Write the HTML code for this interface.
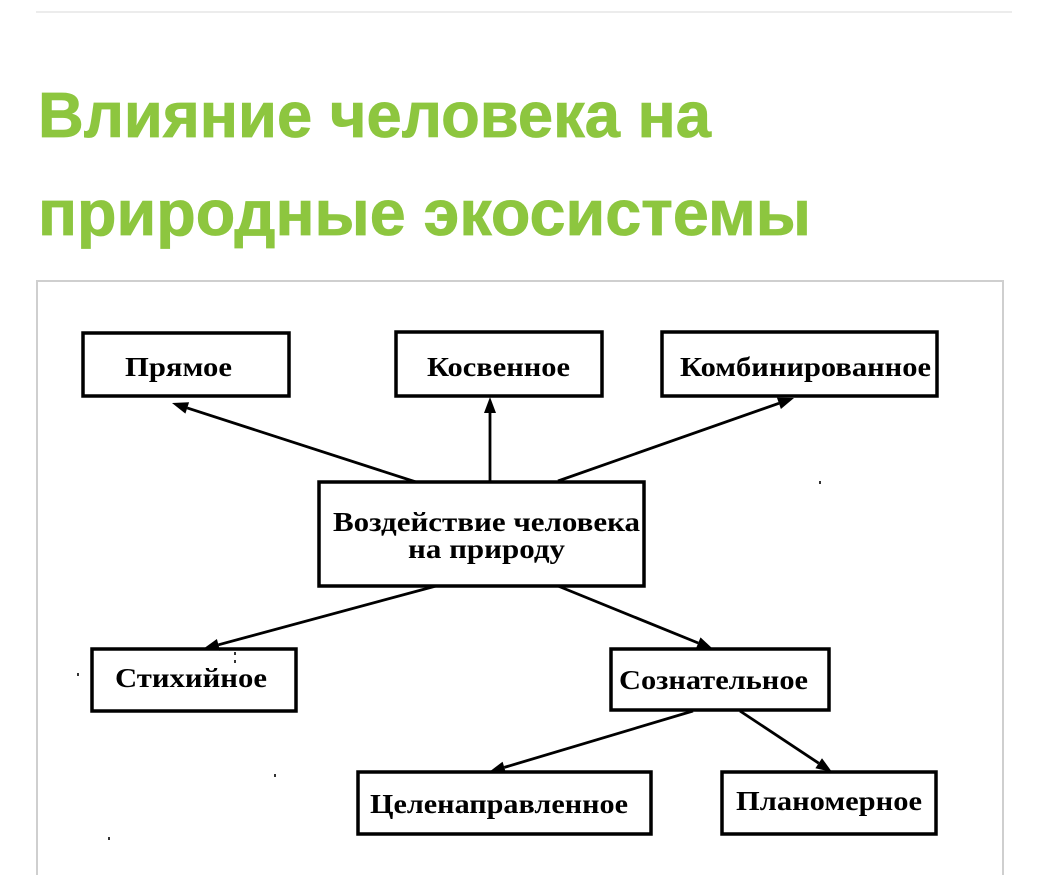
<!DOCTYPE html>
<html>
<head>
<meta charset="utf-8">
<style>
  html,body{margin:0;padding:0;background:#fff;}
  body{width:1063px;height:875px;overflow:hidden;}
  svg{display:block;}
  .t{font-family:"Liberation Sans",Arial,sans-serif;font-weight:bold;font-size:64px;fill:#8dc63f;stroke:#8dc63f;stroke-width:0.8px;}
  .l{font-family:"Liberation Serif","Times New Roman",serif;font-weight:bold;font-size:27px;fill:#000;}
</style>
</head>
<body>
<svg width="1063" height="875" viewBox="0 0 1063 875" xmlns="http://www.w3.org/2000/svg">
  <!-- top rule -->
  <rect x="36" y="11" width="976" height="2" fill="#ececec"/>
  <!-- title -->
  <text class="t" x="38" y="137" textLength="673" lengthAdjust="spacingAndGlyphs">Влияние человека на</text>
  <text class="t" x="38" y="235" textLength="773" lengthAdjust="spacingAndGlyphs">природные экосистемы</text>
  <!-- frame -->
  <rect x="37" y="281" width="966" height="620" fill="none" stroke="#cfcfcf" stroke-width="2"/>

  <g fill="none" stroke="#000" stroke-width="3.5">
    <rect x="83" y="333" width="206" height="63"/>
    <rect x="396" y="332" width="206" height="64"/>
    <rect x="662" y="332" width="275" height="64"/>
    <rect x="319" y="482" width="325" height="104"/>
    <rect x="92" y="649" width="204" height="62"/>
    <rect x="611" y="649" width="218" height="61"/>
    <rect x="358" y="772" width="293" height="62"/>
    <rect x="722" y="772" width="214" height="62"/>
  </g>

  <!-- connectors -->
  <g stroke="#000" stroke-width="2.8" fill="none">
    <line x1="416" y1="482" x2="187.2" y2="407.9"/>
    <line x1="490" y1="482" x2="490" y2="413"/>
    <line x1="558" y1="481" x2="778.9" y2="403.3"/>
    <line x1="436" y1="586" x2="218.4" y2="644.8"/>
    <line x1="558" y1="586" x2="698.2" y2="643"/>
    <line x1="693" y1="711" x2="504.3" y2="767.4"/>
    <line x1="740" y1="711" x2="818.7" y2="763.2"/>
  </g>
  <g fill="#000">
    <polygon points="172,403 189.1,402.2 185.4,413.6"/>
    <polygon points="490,397 484,413 496,413"/>
    <polygon points="794,398 780.9,409 776.9,397.6"/>
    <polygon points="203,649 216.9,639 220,650.6"/>
    <polygon points="713,649 695.9,648.6 700.5,637.4"/>
    <polygon points="489,772 502.6,761.7 506,773.2"/>
    <polygon points="832,772 815.4,768.2 822,758.2"/>
  </g>

  <!-- labels -->
  <text class="l" x="125" y="376" textLength="107" lengthAdjust="spacingAndGlyphs">Прямое</text>
  <text class="l" x="427" y="376" textLength="143" lengthAdjust="spacingAndGlyphs">Косвенное</text>
  <text class="l" x="680" y="376" textLength="251" lengthAdjust="spacingAndGlyphs">Комбинированное</text>
  <text class="l" x="333" y="531" textLength="307" lengthAdjust="spacingAndGlyphs">Воздействие человека</text>
  <text class="l" x="408" y="558" textLength="157" lengthAdjust="spacingAndGlyphs">на природу</text>
  <text class="l" x="115" y="687" textLength="152" lengthAdjust="spacingAndGlyphs">Стихийное</text>
  <text class="l" x="619" y="689" textLength="189" lengthAdjust="spacingAndGlyphs">Сознательное</text>
  <text class="l" x="370" y="813" textLength="258" lengthAdjust="spacingAndGlyphs">Целенаправленное</text>
  <text class="l" x="736" y="810" textLength="186" lengthAdjust="spacingAndGlyphs">Планомерное</text>

  <!-- scan specks -->
  <g fill="#333">
    <rect x="819" y="481" width="2" height="3"/>
    <rect x="77" y="673" width="2" height="3"/>
    <rect x="234" y="652" width="2" height="3"/>
    <rect x="234" y="660" width="2" height="3"/>
    <rect x="274" y="774" width="2" height="3"/>
    <rect x="108" y="837" width="2" height="3"/>
  </g>
</svg>
</body>
</html>
